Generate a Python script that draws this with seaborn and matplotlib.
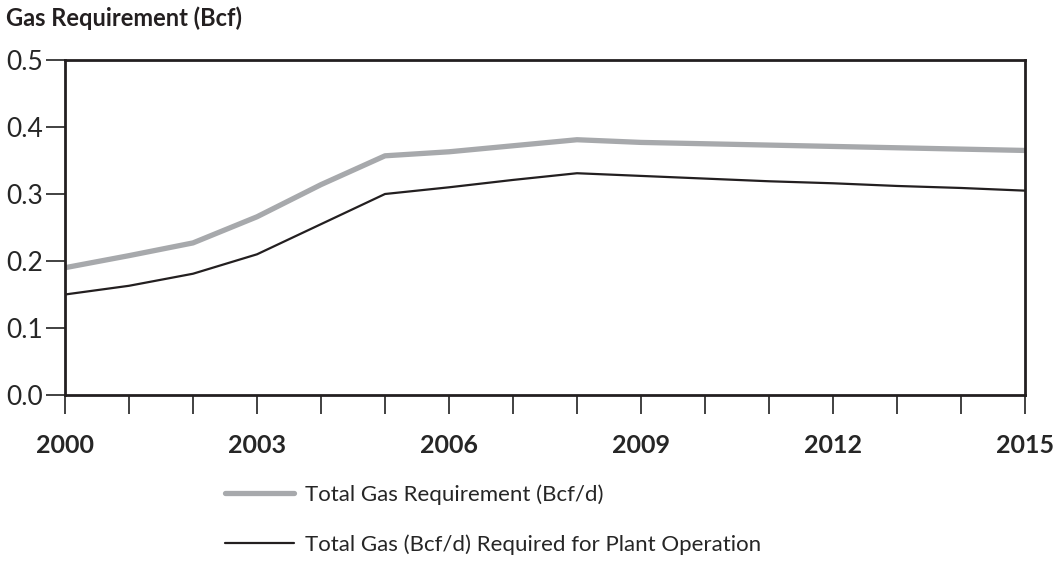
import numpy as np
import pandas as pd
import matplotlib
matplotlib.use("Agg")
import matplotlib.pyplot as plt
from matplotlib.ticker import MultipleLocator, FixedLocator, FormatStrFormatter
import seaborn as sns

# data
years = list(range(2000, 2016))
total_gas = [0.190, 0.208, 0.227, 0.266, 0.314, 0.357, 0.363, 0.372, 0.381,
             0.377, 0.375, 0.373, 0.371, 0.369, 0.367, 0.365]
plant_gas = [0.150, 0.163, 0.181, 0.210, 0.255, 0.300, 0.310, 0.321, 0.331,
             0.327, 0.323, 0.319, 0.316, 0.312, 0.309, 0.305]
labelled_years = [2000, 2003, 2006, 2009, 2012, 2015]
series_names = ["Total Gas Requirement (Bcf/d)",
                "Total Gas (Bcf/d) Required for Plant Operation"]

df = pd.DataFrame({
    "year": years * 2,
    "value": total_gas + plant_gas,
    "series": [series_names[0]] * len(years) + [series_names[1]] * len(years),
})

sns.set_style("white")
plt.rcParams['font.family'] = ['Lato', 'DejaVu Sans']

fig = plt.figure(figsize=(10.58, 5.71), dpi=100)
ax = fig.add_axes([65 / 1058, 1 - 395 / 571, 960 / 1058, 335 / 571])

palette = {series_names[0]: "#a7a9ac", series_names[1]: "#231f20"}
sns.lineplot(data=df, x="year", y="value", hue="series", palette=palette,
             ax=ax, legend=False)
ax.lines[0].set_linewidth(3.8)
ax.lines[1].set_linewidth(1.6)

ax.set_xlim(2000, 2015)
ax.set_ylim(0, 0.5)
ax.xaxis.set_major_locator(FixedLocator(labelled_years))
ax.xaxis.set_minor_locator(FixedLocator(years))
ax.yaxis.set_major_locator(MultipleLocator(0.1))
ax.yaxis.set_major_formatter(FormatStrFormatter("%.1f"))

ax.tick_params(axis="x", which="both", direction="out", length=14, width=1.3,
               color="#333333", bottom=True)
ax.tick_params(axis="x", which="major", pad=14, labelsize=18)
ax.tick_params(axis="y", which="major", direction="out", length=14, width=1.3,
               color="#333333", left=True, pad=2, labelsize=19)
for lbl in ax.get_xticklabels():
    lbl.set_fontweight("bold")
for sp in ax.spines.values():
    sp.set_color("#231f20")
    sp.set_linewidth(2)

ax.set_xlabel("")
ax.set_ylabel("")
fig.text(6 / 1058, 1 - 18 / 571, "Gas Requirement (Bcf)", fontsize=17,
         fontweight="bold", color="#231f20", va="center", ha="left")

handles = [plt.Line2D([], [], color=palette[series_names[0]], lw=3.8),
           plt.Line2D([], [], color=palette[series_names[1]], lw=1.6)]
fig.legend(handles, series_names, loc="upper left",
           bbox_to_anchor=(205 / 1058, 1 - 464 / 571), frameon=False,
           fontsize=16, handlelength=3.1, handletextpad=0.5, labelspacing=1.35)

fig.savefig("out.png", dpi=100)
